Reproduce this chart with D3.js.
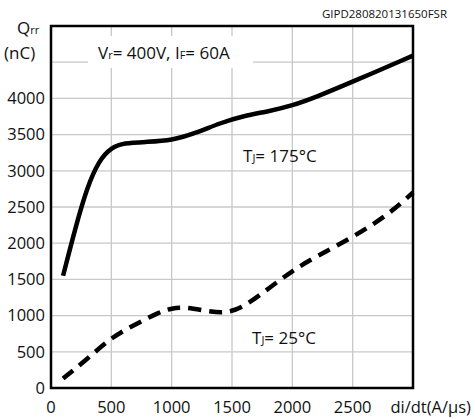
<!DOCTYPE html>
<html><head><meta charset="utf-8">
<script src="https://cdn.jsdelivr.net/npm/d3@7"></script>
<style>body{margin:0;background:#fff}svg text{font-family:"Open Sans",sans-serif;fill:#111}</style>
</head><body><svg id="c" width="475" height="419"></svg>
<script>
const xTicks = [0, 500, 1000, 1500, 2000, 2500];
const yTicks = [0, 500, 1000, 1500, 2000, 2500, 3000, 3500, 4000];
const gridX = [500, 1000, 1500, 2000, 2500];
const gridY = [500, 1000, 1500, 2000, 2500, 3000, 3500, 4000, 4500];
const hot = [[100,1550],[200,2200],[300,2780],[400,3150],[500,3320],[600,3385],[800,3400],[1000,3420],[1200,3520],[1400,3660],[1600,3760],[1800,3820],[2000,3900],[2200,4020],[2500,4230],[3000,4590]];
const cold = [[100,130],[300,400],[500,700],[700,880],[900,1050],[1000,1100],[1100,1120],[1300,1060],[1450,1030],[1600,1120],[1800,1370],[2000,1620],[2200,1820],[2500,2080],[2800,2400],[3000,2700]];

const svg = d3.select('#c');
const x = d3.scaleLinear().domain([0, 3000]).range([51, 413]);
const y = d3.scaleLinear().domain([0, 5000]).range([388, 26]);

svg.selectAll('.gx').data(gridX).enter().append('line')
    .attr('x1', d => x(d)).attr('x2', d => x(d)).attr('y1', y(0)).attr('y2', y(5000))
    .attr('stroke', '#c8c8c8').attr('stroke-width', 1.3);
svg.selectAll('.gy').data(gridY).enter().append('line')
    .attr('x1', x(0)).attr('x2', x(3000)).attr('y1', d => y(d)).attr('y2', d => y(d))
    .attr('stroke', '#c8c8c8').attr('stroke-width', 1.3);

svg.append('rect').attr('x', 88).attr('y', 36).attr('width', 165).attr('height', 32).attr('fill', '#fff');
const cond = svg.append('text').attr('x', 98).attr('y', 59).attr('font-size', 17);
cond.append('tspan').text('V');
cond.append('tspan').attr('font-size', 11).text('r');
cond.append('tspan').text('= 400V, I');
cond.append('tspan').attr('font-size', 11).text('F');
cond.append('tspan').text('= 60A');

const line = d3.line().x(d => x(d[0])).y(d => y(d[1])).curve(d3.curveBasis);
svg.append('path').datum(hot).attr('d', line).attr('fill', 'none').attr('stroke', '#000').attr('stroke-width', 4.5);
svg.append('path').datum(cold).attr('d', line).attr('fill', 'none').attr('stroke', '#000')
    .attr('stroke-width', 4.5).attr('stroke-dasharray', '13,8');

svg.append('rect').attr('x', x(0)).attr('y', y(5000)).attr('width', x(3000) - x(0)).attr('height', y(0) - y(5000))
    .attr('fill', 'none').attr('stroke', '#000').attr('stroke-width', 2.5);

svg.selectAll('.yt').data(yTicks).enter().append('text')
    .attr('x', 45).attr('y', d => y(d)).attr('dy', '0.35em').attr('text-anchor', 'end').attr('font-size', 16.5)
    .text(d => d);
svg.selectAll('.xt').data(xTicks).enter().append('text')
    .attr('x', d => x(d)).attr('y', 413).attr('text-anchor', 'middle').attr('font-size', 16.5)
    .text(d => d);
svg.append('text').attr('x', 471).attr('y', 413).attr('text-anchor', 'end').attr('font-size', 16.5).text('di/dt(A/µs)');

const q = svg.append('text').attr('x', 17).attr('y', 34).attr('font-size', 17).text('Q');
q.append('tspan').attr('font-size', 11).text('rr');
svg.append('text').attr('x', 4).attr('y', 59).attr('font-size', 17).text('(nC)');
svg.append('text').attr('x', 447).attr('y', 18).attr('text-anchor', 'end').attr('font-size', 11.5).text('GIPD280820131650FSR');

const t1 = svg.append('text').attr('x', 243).attr('y', 162).attr('font-size', 17).text('T');
t1.append('tspan').attr('font-size', 11).text('J');
t1.append('tspan').text('= 175°C');
const t2 = svg.append('text').attr('x', 252).attr('y', 344).attr('font-size', 17).text('T');
t2.append('tspan').attr('font-size', 11).text('J');
t2.append('tspan').text('= 25°C');
</script></body></html>
